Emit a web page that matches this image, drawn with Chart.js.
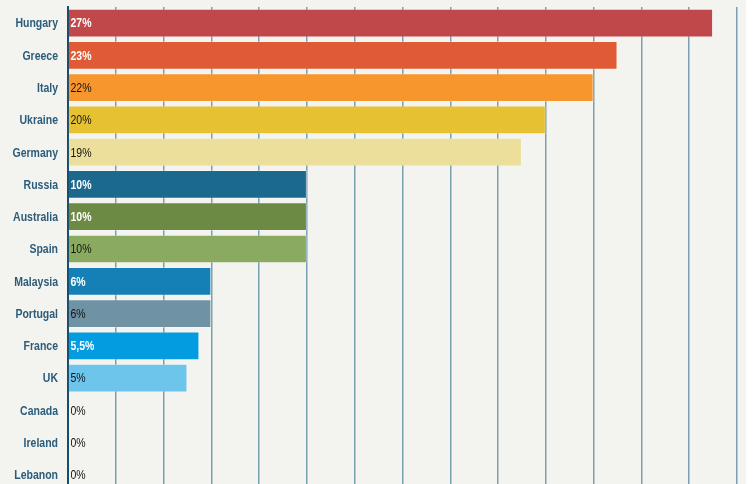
<!DOCTYPE html>
<html>
<head>
<meta charset="utf-8">
<script src="https://cdn.jsdelivr.net/npm/chart.js@4.4.1/dist/chart.umd.min.js"></script>
<style>
  html, body { margin: 0; padding: 0; background: #ffffff; overflow: hidden; width: 755px; height: 484px; }
  #wrap { position: absolute; left: 0; top: 0; width: 746px; height: 500px; background: #f3f3ef; }
</style>
</head>
<body>
<div id="wrap"><canvas id="c" width="746" height="500"></canvas></div>
<script>
const categories = ["Hungary","Greece","Italy","Ukraine","Germany","Russia","Australia","Spain","Malaysia","Portugal","France","UK","Canada","Ireland","Lebanon"];
const values = [27, 23, 22, 20, 19, 10, 10, 10, 6, 6, 5.5, 5, 0, 0, 0];
const valueLabels = ["27%","23%","22%","20%","19%","10%","10%","10%","6%","6%","5,5%","5%","0%","0%","0%"];
const xTicksMax = 28;
const xTickStep = 2;

const barColors = ["#c0484a","#e05b35","#f8962e","#e6c232","#ecdf9c","#1b6a8e","#6d8a45","#8aaa60","#1580b5","#7092a5","#049ce0","#6dc5eb","#cccccc","#cccccc","#cccccc"];
const labelWhite = [true,true,false,false,false,true,true,false,true,false,true,false,false,false,false];

const FONT = '"Liberation Sans", Arial, sans-serif';
const SQUEEZE = 0.875;

function drawNarrow(ctx, text, x, y, align) {
  ctx.save();
  ctx.translate(x, y);
  ctx.scale(SQUEEZE, 1);
  ctx.textAlign = align;
  ctx.fillText(text, 0, 0);
  ctx.restore();
}

const labelsPlugin = {
  id: 'narrowLabels',
  afterDatasetsDraw(chart) {
    const ctx = chart.ctx;
    const meta = chart.getDatasetMeta(0);
    const yScale = chart.scales.y;
    ctx.save();
    ctx.textBaseline = 'middle';
    ctx.font = 'bold 12px ' + FONT;
    ctx.fillStyle = '#2b5c7a';
    categories.forEach((name, i) => {
      drawNarrow(ctx, name, yScale.right - 10, yScale.getPixelForValue(i) + 1, 'right');
    });
    meta.data.forEach((el, i) => {
      const white = labelWhite[i];
      ctx.font = (white ? 'bold ' : '') + '12px ' + FONT;
      ctx.fillStyle = white ? '#ffffff' : '#111111';
      drawNarrow(ctx, valueLabels[i], chart.chartArea.left + 2.5, el.y + 1, 'left');
    });
    ctx.restore();
  }
};

new Chart(document.getElementById('c'), {
  type: 'bar',
  data: {
    labels: categories,
    datasets: [{
      data: values,
      backgroundColor: barColors,
      borderColor: 'rgba(255,255,255,0.3)',
      borderWidth: 1,
      borderSkipped: 'start',
      barPercentage: 0.89,
      categoryPercentage: 1.0
    }]
  },
  options: {
    indexAxis: 'y',
    responsive: false,
    animation: false,
    devicePixelRatio: 1,
    layout: { padding: { top: 7, right: 9, bottom: 9, left: 0 } },
    plugins: { legend: { display: false }, tooltip: { enabled: false } },
    scales: {
      x: {
        min: 0, max: xTicksMax,
        ticks: { display: false, stepSize: xTickStep },
        grid: { color: '#7a9fb0', lineWidth: 1.5, drawTicks: false },
        border: { display: false },
        afterFit(scale) { scale.height = 0; }
      },
      y: {
        grid: { display: false, drawTicks: false },
        border: { display: true, color: '#174d6d', width: 2 },
        ticks: { display: false },
        afterFit(scale) { scale.width = 68; }
      }
    }
  },
  plugins: [labelsPlugin]
});
</script>
</body>
</html>
